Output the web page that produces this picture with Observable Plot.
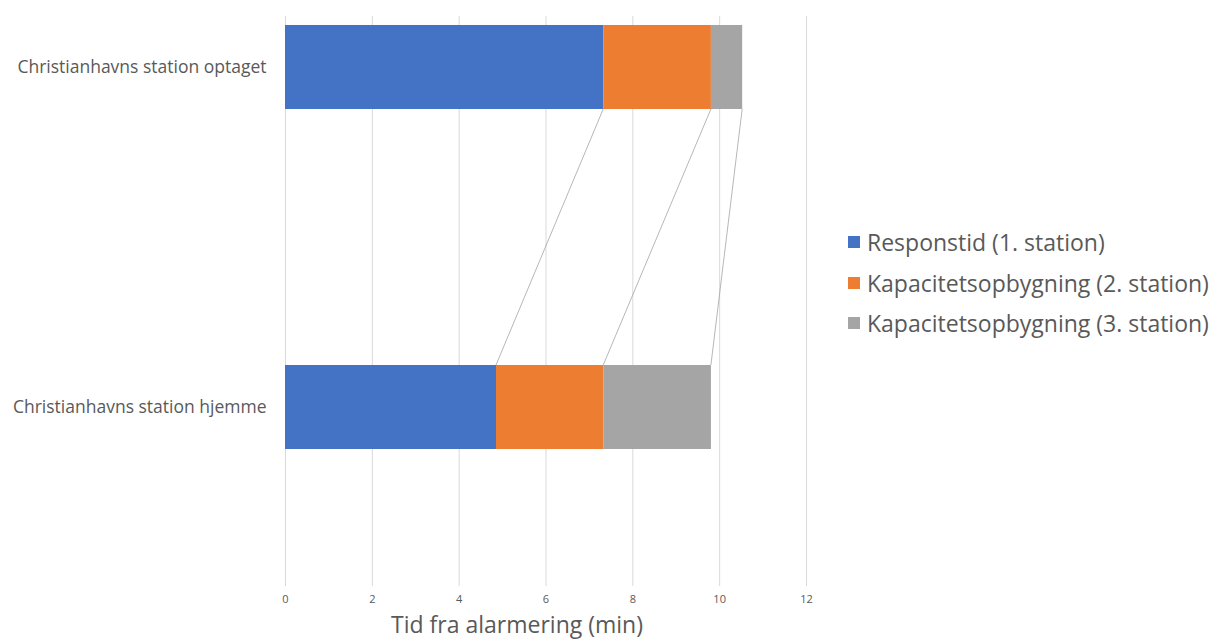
<!DOCTYPE html>
<html><head><meta charset="utf-8">
<script src="https://cdn.jsdelivr.net/npm/d3@7"></script>
<script src="https://cdn.jsdelivr.net/npm/@observablehq/plot@0.6"></script>
<style>
html,body{margin:0;padding:0;background:#fff;}
#wrap{position:relative;width:1224px;height:644px;font-family:"Open Sans",sans-serif;}
#xlabel{position:absolute;left:0;width:1034px;top:609px;text-align:center;font-size:23px;line-height:30px;color:#595959;}
#legend{position:absolute;left:848px;top:222px;font-size:23px;color:#595959;}
#legend .row{display:flex;align-items:center;height:40.5px;white-space:nowrap;}
#legend .sw{width:12px;height:12px;margin-right:7px;flex:none;}
</style></head>
<body><div id="wrap"><div id="xlabel"></div><div id="legend"></div></div>
<script>
const categories = ["Christianhavns station optaget", "Christianhavns station hjemme"];
const seriesNames = ["Responstid (1. station)", "Kapacitetsopbygning (2. station)", "Kapacitetsopbygning (3. station)"];
const seriesColors = ["#4472C4", "#ED7D31", "#A5A5A5"];
const respons = [7.33, 4.86];
const kapacitet2 = [2.48, 2.47];
const kapacitet3 = [0.72, 2.48];
const xTicks = [0, 2, 4, 6, 8, 10, 12];
const xTitle = "Tid fra alarmering (min)";

const series = [respons, kapacitet2, kapacitet3];
const rows = [];
categories.forEach((c, i) => series.forEach((s, j) => rows.push({cat: c, series: seriesNames[j], value: s[i]})));

const plot = Plot.plot({
  width: 1224, height: 644,
  marginLeft: 285, marginRight: 418, marginTop: 16, marginBottom: 58,
  style: {fontFamily: '"Open Sans", sans-serif', color: "#595959", background: "transparent"},
  x: {domain: [0, 12], ticks: xTicks, tickSize: 0, tickPadding: 9, label: null, tickFormat: d => d},
  y: {domain: categories, range: [25, 449], paddingInner: 0.753, paddingOuter: 0, tickSize: 0, tickPadding: 19, label: null},
  color: {domain: seriesNames, range: seriesColors},
  marks: [
    Plot.ruleX(xTicks, {stroke: "#d9d9d9", strokeWidth: 1}),
    Plot.barX(rows, Plot.stackX({x: "value", y: "cat", fill: "series", order: seriesNames})),
    Plot.axisX({ticks: xTicks, tickSize: 0, tickPadding: 9, fontSize: 11, label: null}),
    Plot.axisY({tickSize: 0, tickPadding: 19, fontSize: 17.5, label: null})
  ]
});
document.getElementById("wrap").prepend(plot);
plot.style.position = "absolute"; plot.style.left = "0"; plot.style.top = "0";

// series lines connecting the stack boundaries of the two bars
const xs = plot.scale("x"), ys = plot.scale("y");
const cum = (i, k) => series.slice(0, k + 1).reduce((a, s) => a + s[i], 0);
const svg = d3.select(plot);
const bw = ys.bandwidth;
for (let k = 0; k < series.length; k++) {
  svg.append("line")
    .attr("x1", xs.apply(cum(0, k))).attr("y1", ys.apply(categories[0]) + bw)
    .attr("x2", xs.apply(cum(1, k))).attr("y2", ys.apply(categories[1]))
    .attr("stroke", "#a5a5a5").attr("stroke-width", 0.8);
}

document.getElementById("xlabel").textContent = xTitle;
const lg = d3.select("#legend");
seriesNames.forEach((n, j) => {
  const r = lg.append("div").attr("class", "row");
  r.append("div").attr("class", "sw").style("background", seriesColors[j]);
  r.append("span").text(n);
});
</script></body></html>
